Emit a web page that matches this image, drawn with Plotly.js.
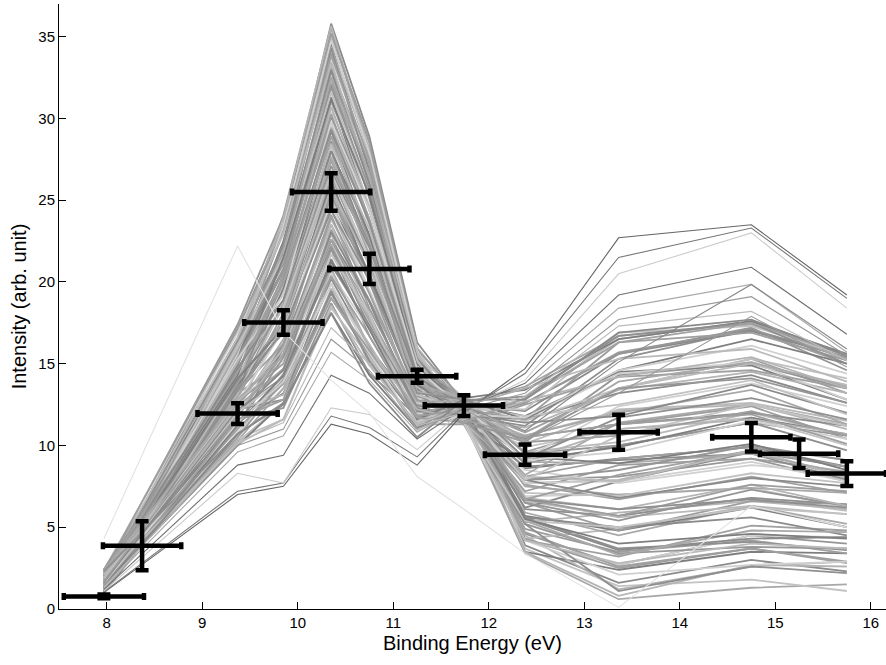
<!DOCTYPE html>
<html>
<head>
<meta charset="utf-8">
<script src="https://cdn.plot.ly/plotly-3.0.1.min.js"></script>
<style>html,body{margin:0;padding:0;background:#fff;}#chart{width:886px;height:665px;}</style>
</head>
<body>
<div id="chart"></div>
<script>
// Energy nodes of the simulated spectra (eV)
const curveEnergies = [7.97, 9.37, 9.85, 10.35, 10.75, 11.25, 11.74, 12.38, 13.36, 14.75, 15.75];

// Simulated spectra (grey family), values read/
const simCurves = [
  [1.8,17.1,23.5,35.8,28.9,16.3,12.6,3.9,1.6,3.0,2.3],
  [1.2,16.0,24.1,35.5,27.8,15.5,11.5,3.4,0.6,1.3,1.5],
  [2.2,17.4,24.0,35.2,28.6,16.0,12.3,4.6,2.7,4.5,4.0],
  [1.5,16.2,23.2,34.9,27.7,15.5,12.9,3.7,1.4,1.8,1.1],
  [1.0,15.4,22.5,34.6,26.8,15.6,11.8,3.5,2.4,3.5,3.4],
  [2.0,16.6,23.5,34.3,27.9,15.9,11.3,4.5,1.2,2.6,2.9],
  [1.4,15.5,22.3,34.0,27.2,15.1,12.1,4.9,3.5,4.2,3.4],
  [2.4,16.9,22.9,33.7,27.3,16.0,12.5,4.2,2.7,4.5,4.4],
  [1.8,15.7,23.2,33.4,26.1,15.1,12.6,5.6,3.7,4.1,3.6],
  [1.2,14.9,22.0,33.1,27.2,15.2,11.5,4.7,2.6,3.7,2.8],
  [2.2,16.1,21.3,32.8,26.0,15.4,12.3,4.3,4.9,6.3,5.8],
  [1.5,15.0,22.3,32.5,25.1,14.7,12.9,5.5,3.6,4.3,4.4],
  [1.0,16.4,21.1,32.2,26.3,15.6,11.8,5.9,4.5,6.3,5.2],
  [2.0,15.2,21.7,31.9,25.5,14.7,11.3,5.2,3.4,3.8,3.7],
  [1.4,14.4,22.0,31.6,25.6,14.8,12.1,6.6,5.7,6.8,6.0],
  [2.4,15.6,20.8,31.3,24.4,15.0,12.5,5.7,4.8,6.2,5.0],
  [1.8,14.5,20.1,31.0,25.5,14.2,12.6,5.3,5.9,6.6,6.1],
  [1.2,15.8,21.1,30.7,24.4,15.2,11.5,6.5,4.8,6.6,6.4],
  [2.2,14.6,19.9,30.4,23.4,14.3,12.3,6.9,7.0,7.4,6.2],
  [1.5,13.8,20.5,30.1,24.6,14.4,12.9,6.1,5.7,6.8,6.4],
  [1.0,15.0,20.8,29.8,23.8,14.6,11.8,7.6,6.7,8.1,7.1],
  [2.0,13.9,19.6,29.5,23.9,13.8,11.3,6.7,5.6,6.3,5.0],
  [1.4,15.3,18.9,29.2,22.8,14.7,12.1,6.2,7.8,9.6,8.7],
  [2.4,14.1,19.9,28.9,23.8,13.9,12.5,7.5,7.0,7.4,7.1],
  [1.8,13.3,18.7,28.6,22.7,14.0,12.6,7.9,8.1,9.2,7.8],
  [1.2,14.5,19.3,28.3,21.7,14.2,11.5,7.1,6.9,8.3,7.7],
  [2.2,13.4,19.6,28.0,22.9,13.4,12.3,8.6,9.2,9.9,8.7],
  [1.5,14.8,18.4,27.7,22.2,14.3,12.9,7.7,7.9,9.7,8.0],
  [1.0,13.6,17.7,27.4,22.2,13.4,11.8,7.2,8.8,9.2,8.4],
  [2.0,12.8,18.7,27.1,21.1,13.6,11.3,8.5,7.7,8.8,8.3],
  [1.4,14.0,17.5,26.8,22.1,13.8,12.1,8.9,10.0,11.4,9.7],
  [2.4,12.9,18.1,26.5,21.0,13.0,12.5,8.1,9.2,9.9,9.1],
  [1.8,14.3,18.4,26.2,20.1,13.9,12.6,9.6,10.2,12.0,10.6],
  [1.2,13.1,17.2,25.9,21.2,13.0,11.5,8.7,9.1,9.5,7.9],
  [2.2,12.3,16.5,25.6,20.5,13.1,12.3,8.2,11.4,12.5,11.3],
  [1.5,13.5,17.5,25.3,20.5,13.3,12.9,9.5,10.0,11.4,10.6],
  [1.0,12.4,16.3,25.0,19.4,12.6,11.8,9.9,11.0,11.7,10.0],
  [2.0,13.7,16.9,24.7,20.5,13.5,11.3,9.1,9.9,11.7,10.7],
  [1.4,12.5,17.2,24.4,19.3,12.6,12.1,10.6,12.1,12.5,11.0],
  [2.4,11.7,16.0,24.1,18.4,12.7,12.5,9.6,11.3,12.4,10.4],
  [1.8,12.9,15.2,23.8,19.5,12.9,12.6,9.2,12.4,13.8,12.4],
  [1.2,11.8,16.2,23.5,18.8,12.1,11.5,10.5,11.3,12.0,11.2],
  [2.2,13.2,15.0,23.2,18.9,13.1,12.3,10.8,13.5,15.3,13.2],
  [1.5,12.0,15.6,22.9,17.7,12.2,12.9,10.1,12.2,12.6,11.5],
  [1.0,11.2,15.9,22.6,18.8,12.3,11.8,11.6,13.2,14.3,12.6],
  [2.0,12.4,14.7,22.3,17.6,12.5,11.3,10.6,12.0,13.4,11.3],
  [1.4,11.3,14.0,22.0,16.7,11.7,12.1,10.2,14.3,15.0,13.5],
  [2.4,12.7,15.0,21.7,17.9,12.6,12.5,11.5,13.5,15.3,14.1],
  [1.8,11.5,13.8,21.4,17.1,11.8,12.6,11.8,14.5,14.9,12.8],
  [1.2,10.7,14.4,21.1,17.2,11.9,11.5,11.1,13.4,14.5,13.2],
  [2.2,11.9,14.7,20.8,16.0,12.1,12.3,12.6,15.7,17.1,15.0],
  [1.5,10.8,13.5,20.5,17.1,11.3,12.9,11.6,14.4,15.1,12.8],
  [1.0,12.2,12.8,20.2,16.0,12.2,11.8,11.2,15.3,17.1,15.4],
  [2.0,11.0,13.8,19.9,15.0,11.3,11.3,12.5,14.2,14.6,13.5],
  [1.4,10.2,12.6,19.6,16.2,11.4,12.1,12.8,16.5,17.6,15.2],
  [2.4,11.4,13.2,19.3,15.4,11.7,12.5,12.1,15.6,17.0,15.4],
  [1.8,10.3,13.5,19.0,15.5,10.9,12.6,13.6,16.7,17.4,15.3],
  [1.2,11.6,12.3,18.7,14.4,11.8,11.5,12.6,15.6,17.2,14.6],
  [2.2,10.4,11.6,18.4,15.4,10.9,12.3,12.2,16.9,17.3,15.5],
  [1.5,10.0,12.6,18.1,14.3,11.0,12.9,13.4,16.5,17.6,15.6],
  [1.6,16.4,23.9,35.65,28.1,15.6,11.9,3.5,0.8,2.7,2.6],
  [2.3,17.2,23.2,35.2,28.5,15.9,12.7,4.3,2.5,3.7,2.9],
  [1.1,15.6,23.4,34.75,27.9,15.8,11.4,4.2,2.1,2.7,2.9],
  [1.9,16.4,22.2,34.3,26.7,15.1,12.4,5.2,1.1,2.6,2.2],
  [1.3,15.8,23.1,33.85,27.5,15.1,12.8,4.2,3.2,5.1,4.8],
  [2.1,16.6,23.0,33.4,26.5,15.7,11.6,4.2,2.8,4.0,3.7],
  [1.7,14.9,21.7,32.95,26.0,15.3,12.2,5.6,5.0,5.6,4.5],
  [1.6,15.8,21.9,32.5,26.6,14.6,11.9,5.4,3.3,4.8,4.7],
  [2.3,15.1,20.7,32.05,25.7,14.6,12.7,6.5,5.4,7.3,6.3],
  [1.1,16.0,21.6,31.6,24.6,15.2,11.4,5.4,5.0,6.2,5.8],
  [1.9,14.3,21.5,31.15,25.3,14.8,12.4,5.5,4.0,4.6,4.3],
  [1.3,15.1,20.2,30.7,24.4,14.1,12.8,6.8,6.1,7.6,6.3],
  [2.1,14.5,20.4,30.25,23.8,14.1,11.6,6.7,5.7,7.6,7.2],
  [1.7,15.3,19.2,29.8,24.4,14.7,12.2,7.7,7.8,9.0,7.8],
  [1.6,13.7,20.1,29.35,23.6,14.3,11.9,6.7,6.1,6.7,6.2],
  [2.3,14.5,20.0,28.9,22.4,13.6,12.7,6.7,8.2,9.7,8.7],
  [1.1,13.9,18.7,28.45,23.2,13.6,11.4,8.1,7.8,9.7,8.1],
  [1.9,14.7,18.9,28.0,22.2,14.2,12.4,7.9,6.8,8.0,7.5],
  [1.3,13.0,17.7,27.55,21.6,13.8,12.8,9.0,8.9,9.5,8.3],
  [2.1,13.9,18.6,27.1,22.3,13.1,11.6,7.9,8.5,10.0,9.1],
  [1.7,13.2,18.5,26.65,21.4,13.1,12.2,7.9,10.6,12.5,11.2],
  [1.6,14.1,17.2,26.2,20.3,13.7,11.9,9.3,8.9,10.1,8.5],
  [2.3,12.4,17.4,25.75,21.0,13.3,12.7,9.1,11.0,11.6,10.7],
  [1.1,13.3,16.2,25.3,20.0,12.5,11.4,10.2,10.6,12.1,10.6],
  [1.9,12.6,17.1,24.85,19.5,12.6,12.4,9.1,9.6,11.5,10.4],
  [1.3,13.4,17.0,24.4,20.1,13.2,12.8,9.2,11.7,12.9,11.6],
  [2.1,11.8,15.6,23.95,19.3,12.8,11.6,10.5,11.3,11.9,10.1],
  [1.7,12.6,15.9,23.5,18.1,12.0,12.2,10.4,13.5,15.0,13.7],
  [1.6,12.0,14.6,23.05,18.8,12.1,11.9,11.4,11.8,13.7,12.0],
  [2.3,12.8,15.5,22.6,17.9,12.7,12.7,10.4,13.9,15.1,13.6],
  [1.1,11.2,15.4,22.15,17.3,12.3,11.4,10.4,13.5,14.1,12.6],
  [1.9,12.0,14.1,21.7,18.0,11.5,12.4,11.8,12.5,14.0,11.9],
  [1.3,11.3,14.3,21.25,17.1,11.6,12.8,11.6,14.6,16.5,15.0],
  [2.1,12.2,13.1,20.8,15.9,12.2,11.6,12.7,14.2,15.4,13.5],
  [1.7,10.5,14.0,20.35,16.7,11.8,12.2,11.6,16.3,16.9,15.2],
  [1.6,11.4,13.9,19.9,15.7,11.0,11.9,11.7,14.6,16.1,14.4],
  [2.3,10.7,12.6,19.45,15.2,11.1,12.7,13.0,16.7,17.5,15.0],
  [1.1,11.6,12.8,19.0,15.8,11.7,11.4,12.9,16.3,17.5,15.5],
  [1.9,10.1,11.6,18.55,14.9,11.3,12.4,13.5,15.3,15.9,13.9],
  [1.3,10.7,12.5,18.1,13.8,10.5,12.8,12.8,16.9,17.7,15.5]
];

// Isolated (outlying) spectra
const outlierCurves = [
  [1.0,7.0,7.5,11.3,10.7,8.8,12.0,14.7,22.7,23.5,19.2],
  [1.05,7.2,7.7,11.8,11.1,9.3,12.1,14.4,21.5,23.3,19.0],
  [1.1,8.3,7.7,12.3,11.9,9.75,12.2,14.0,20.5,23.0,18.4],
  [1.2,8.8,9.4,14.3,13.2,10.4,12.3,13.8,19.2,20.9,16.8],
  [1.3,9.6,10.6,15.7,14.0,10.8,12.4,13.5,18.4,19.85,15.7],
  [1.4,10.0,11.0,16.5,14.6,11.0,12.2,13.2,17.7,19.1,15.5],
  [1.3,10.2,11.4,17.2,15.0,11.2,12.0,13.0,17.3,18.2,15.2],
  [1.6,12.2,14.2,21.0,17.4,12.4,12.4,10.9,15.1,19.85,15.9],
  [1.7,12.6,15.0,22.5,18.3,12.8,12.2,10.3,13.2,17.9,14.8],
  [4.3,22.2,17.0,14.0,12.0,8.1,6.1,3.4,0.1,6.3,5.0]
];

// Measured points with error bars
const expEnergy = [7.97, 8.37, 9.37, 9.85, 10.35, 10.75, 11.25, 11.74, 12.38, 13.36, 14.75, 15.25, 15.75];
const expIntensity = [0.77, 3.87, 11.95, 17.52, 25.5, 20.8, 14.23, 12.44, 9.44, 10.81, 10.5, 9.5, 8.28];
const expIntensityErr = [0.12, 1.5, 0.63, 0.75, 1.15, 0.92, 0.4, 0.63, 0.62, 1.07, 0.87, 0.87, 0.76];
const expEnergyErr = [0.42, 0.41, 0.42, 0.41, 0.41, 0.42, 0.41, 0.41, 0.42, 0.41, 0.41, 0.41, 0.41];

const xTicks = [8, 9, 10, 11, 12, 13, 14, 15, 16];
const yTicks = [0, 5, 10, 15, 20, 25, 30, 35];

const greyPalette = ['#8a8a8a','#a8a8a8','#969696','#c2c2c2','#7e7e7e','#b4b4b4','#9e9e9e','#d0d0d0','#8f8f8f','#a0a0a0','#bababa'];
const outlierShades = ['#666666','#777777','#cccccc','#707070','#aaaaaa','#999999','#bbbbbb','#888888','#9a9a9a','#e2e2e2'];

const traces = [];
simCurves.forEach((vals, i) => {
  traces.push({
    x: curveEnergies, y: vals, type: 'scatter', mode: 'lines',
    line: {color: greyPalette[i % greyPalette.length], width: 1.8},
    hoverinfo: 'skip', showlegend: false
  });
});
outlierCurves.forEach((vals, i) => {
  traces.push({
    x: curveEnergies, y: vals, type: 'scatter', mode: 'lines',
    line: {color: outlierShades[i], width: 1.1},
    hoverinfo: 'skip', showlegend: false
  });
});
traces.push({
  x: expEnergy, y: expIntensity, type: 'scatter', mode: 'markers',
  marker: {size: 2, color: '#000'},
  error_y: {type: 'data', array: expIntensityErr, visible: true, color: '#000', thickness: 4.5, width: 6.5},
  error_x: {type: 'data', array: expEnergyErr, visible: true, color: '#000', thickness: 4.5, width: 3.5},
  showlegend: false
});

const fontFam = '"Liberation Sans", Arial, Helvetica, sans-serif';
const layout = {
  width: 886, height: 665,
  margin: {l: 59, r: 0, t: 4, b: 56},
  paper_bgcolor: '#fff', plot_bgcolor: '#fff',
  font: {family: fontFam, color: '#000', size: 15},
  xaxis: {
    range: [7.5, 16.16], tickvals: xTicks, ticktext: xTicks.map(String),
    ticks: 'inside', ticklen: 7, tickwidth: 1, tickcolor: '#000',
    showline: true, linecolor: '#000', linewidth: 1, mirror: false,
    showgrid: false, zeroline: false,
    tickfont: {size: 15, family: fontFam},
    title: {text: 'Binding Energy (eV)', font: {size: 20, family: fontFam}, standoff: 5},
    automargin: false
  },
  yaxis: {
    range: [0, 37], tickvals: yTicks, ticktext: yTicks.map(String),
    ticks: 'inside', ticklen: 7, tickwidth: 1, tickcolor: '#000',
    showline: true, linecolor: '#000', linewidth: 1, mirror: false,
    showgrid: false, zeroline: false,
    tickfont: {size: 15, family: fontFam},
    title: {text: 'Intensity (arb. unit)', font: {size: 20, family: fontFam}, standoff: 6},
    automargin: false
  }
};

Plotly.newPlot('chart', traces, layout, {displayModeBar: false, staticPlot: true});
</script>
</body>
</html>
